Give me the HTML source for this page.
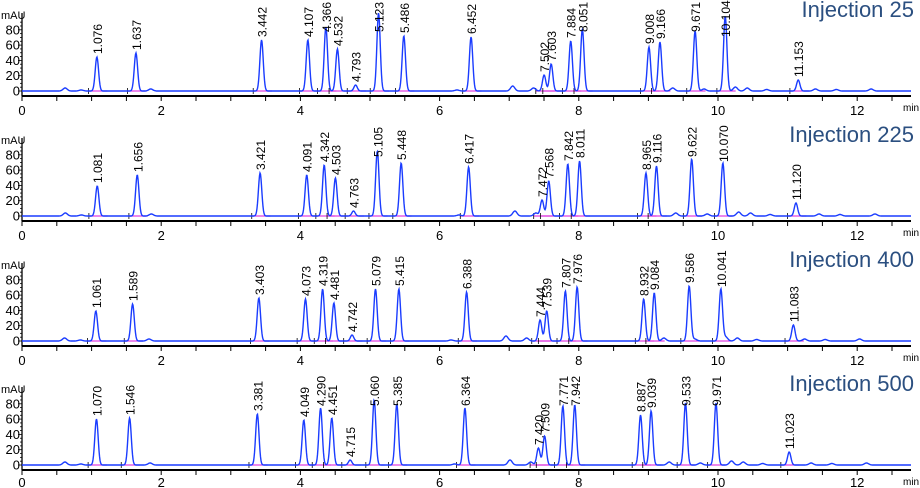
<!DOCTYPE html>
<html><head><meta charset="utf-8"><style>
html,body{margin:0;padding:0;background:#fff;width:920px;height:488px;overflow:hidden}
svg{display:block}
text{font-family:"Liberation Sans",sans-serif}
</style></head><body>
<svg id="s" width="920" height="488" xmlns="http://www.w3.org/2000/svg"></svg>
<script>
const S=document.getElementById('s');
const X0=22,K=69.6,XE=911;
const px=t=>X0+t*K;
const panels=[
{b:91,title:"Injection 25",peaks:[[1.076,57],[1.637,53],[3.442,40],[4.107,40],[4.366,27],[4.532,49],[4.793,85],[5.123,13],[5.486,36],[6.452,37],[7.502,75],[7.603,64],[7.884,41],[8.051,29],[9.008,47],[9.166,42],[9.671,31],[10.104,16],[11.153,80]]},
{b:216,title:"Injection 225",peaks:[[1.081,186],[1.656,175],[3.421,173],[4.091,175],[4.342,165],[4.503,178],[4.763,211],[5.105,151],[5.448,163],[6.417,167],[7.472,200],[7.568,181],[7.842,164],[8.011,161],[8.965,173],[9.116,166],[9.622,159],[10.070,163],[11.120,203]]},
{b:341,title:"Injection 400",peaks:[[1.061,311],[1.589,304],[3.403,298],[4.073,299],[4.319,289],[4.481,303],[4.742,335],[5.079,289],[5.415,289],[6.388,292],[7.444,320],[7.539,311],[7.807,291],[7.976,287],[8.932,299],[9.084,293],[9.586,286],[10.041,289],[11.083,325]]},
{b:465,title:"Injection 500",peaks:[[1.070,419],[1.546,418],[3.381,414],[4.049,420],[4.290,408],[4.451,418],[4.715,460],[5.060,400],[5.385,404],[6.364,408],[7.420,448],[7.509,436],[7.771,406],[7.942,405],[8.887,415],[9.039,411],[9.533,403],[9.971,403],[11.023,452]]}
];
const bumps=[[0.62,3],[1.85,2],[0.85,1],[7.05,5],[7.35,3],[9.35,3],[9.8,2],[10.25,4],[10.42,3],[10.7,1.5],[11.4,2],[11.7,1.5],[12.2,2],[6.25,1]];
let h='';
panels.forEach((p,i)=>{
 const b=p.b, ax=b+5;
 h+=`<line x1="${X0}" y1="${b-78}" x2="${X0}" y2="${ax}" stroke="#000" stroke-width="1.3"/>`;
 h+=`<text x="1" y="${b-72}" font-size="11">mAU</text>`;
 for(let v=0;v<=90;v+=5){const y=b-v*0.765;h+=`<line x1="${X0-(v%20==0?4:2)}" y1="${y}" x2="${X0}" y2="${y}" stroke="#000" stroke-width="0.8"/>`;}
 for(let v=0;v<=80;v+=20){const y=b-v*0.765;h+=`<text x="${X0-2}" y="${y+4.5}" font-size="13" text-anchor="end">${v}</text>`;}
 h+=`<line x1="${X0}" y1="${ax}" x2="${XE}" y2="${ax}" stroke="#000" stroke-width="2"/>`;
 for(let t=0;t<=12.5;t+=0.5){h+=`<line x1="${px(t)}" y1="${ax}" x2="${px(t)}" y2="${ax+5}" stroke="#000" stroke-width="1"/>`;}
 const ly=i==3?ax+17:ax+19;
 for(let t=0;t<=12;t+=2){h+=`<text x="${px(t)}" y="${ly}" font-size="13" text-anchor="middle">${t}</text>`;}
 h+=`<text x="${XE-8}" y="${ax+15}" font-size="10">min</text>`;
 p.peaks.forEach(q=>{h+=`<line x1="${px(q[0]-0.12)}" y1="${b}" x2="${px(q[0]+0.15)}" y2="${b}" stroke="#e040e0" stroke-width="1.3"/><line x1="${px(q[0]-0.12)}" y1="${b-3}" x2="${px(q[0]-0.12)}" y2="${b+3}" stroke="#000" stroke-width="0.8"/>`;});
 const sh=p.peaks[0][0]-1.076;
 let d='';
 for(let x=X0;x<=XE;x+=0.5){
  const t=(x-X0)/K;let y=b;
  p.peaks.forEach(q=>{const hh=b-q[1];const s=0.024;y-=hh*Math.exp(-((t-q[0])**2)/(2*s*s));});
  bumps.forEach(q=>{const s=0.03;y-=q[1]*Math.exp(-((t-(q[0]+sh*(q[0]/1.1)))**2)/(2*s*s));});
  d+=(d?'L':'M')+x.toFixed(1)+' '+y.toFixed(1);
 }
 h+=`<path d="${d}" fill="none" stroke="#1a3cff" stroke-width="1.4"/>`;
 p.peaks.forEach(q=>{const len=q[0]>=10?34:29;let y=q[1]-3;if(y-len<b-88)y=b-88+len;const x=px(q[0])+5;h+=`<text transform="translate(${x},${y}) rotate(-90)" font-size="12">${q[0].toFixed(3)}</text>`;});
 h+=`<text x="914" y="${b-74}" font-size="22" fill="#2b4f80" text-anchor="end">${p.title}</text>`;
});
S.innerHTML=h;
</script>
</body></html>
